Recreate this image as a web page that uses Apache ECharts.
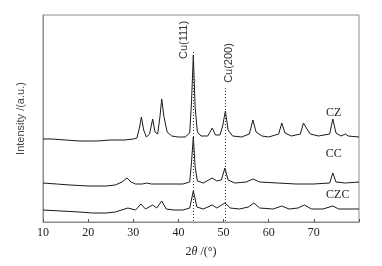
<!DOCTYPE html>
<html>
<head>
<meta charset="utf-8">
<script src="https://cdn.jsdelivr.net/npm/echarts@6/dist/echarts.min.js"></script>
<style>
  html, body { margin: 0; padding: 0; background: #fff; }
  #main { width: 382px; height: 266px; }
</style>
</head>
<body>
<div id="main"></div>
<script>
// XRD patterns, [2theta, intensity (offset, a.u.)]
const czData = [
  [10, 83], [12, 83], [15, 82], [18, 81], [20, 81], [22, 81], [25, 82], [28, 82], [30, 83],
  [30.8, 84], [31.4, 95], [31.8, 105], [32.3, 92], [32.9, 85], [33.6, 88], [34.3, 103],
  [34.8, 90], [35.4, 88], [35.9, 105], [36.3, 123], [36.8, 105], [37.5, 90], [38.5, 86],
  [40, 85], [41.5, 85], [42.5, 89], [42.9, 120], [43.3, 167], [43.7, 115], [44.2, 90],
  [45, 86], [46.5, 86], [47.5, 94], [48.2, 87], [49.2, 87], [49.8, 96], [50.4, 111],
  [51, 92], [52, 86], [54, 85], [55.7, 88], [56.5, 102], [57.2, 90], [58.5, 86], [60, 85],
  [62.2, 88], [62.9, 99], [63.6, 89], [65, 86], [67, 88], [67.7, 99], [68.2, 95], [68.6, 96],
  [69.2, 88], [71, 86], [73.5, 88], [74.2, 103], [74.9, 89], [76, 86], [77, 88], [77.6, 86],
  [80, 85]
];
const ccData = [
  [10, 39], [13, 38], [16, 37], [20, 36], [24, 36], [26, 37], [27.5, 40], [28.6, 44],
  [29.5, 40], [30.5, 38], [32, 38], [33, 39], [34, 38], [38, 38], [41, 38], [42.5, 40],
  [42.9, 60], [43.3, 85], [43.7, 55], [44.2, 41], [45.5, 39], [47.5, 44], [48.5, 41],
  [49.5, 42], [50.3, 54], [51, 42], [52.5, 39], [55, 40], [56.5, 43], [58, 40], [62, 39],
  [66, 38], [70, 38], [73.5, 39], [74.2, 49], [74.9, 40], [77, 39], [80, 40]
];
const czcData = [
  [10, 12], [14, 11], [18, 10], [21, 9], [24, 9], [26, 10], [28.8, 14], [30.5, 12],
  [31.7, 18], [32.7, 13], [34.3, 17], [35.2, 14], [36.3, 21], [37.3, 13], [39, 12],
  [41, 12], [42.5, 14], [43.3, 31], [44.1, 15], [45.5, 13], [47.5, 17], [48.5, 14],
  [50.3, 19], [51.5, 14], [53.5, 13], [55.5, 15], [56.7, 19], [58, 14], [61, 13],
  [62.9, 16], [64.5, 13], [66.5, 14], [67.9, 17], [69.5, 13], [72, 13], [74.2, 16],
  [75.5, 13], [78, 13], [80, 13]
];

const sampleNames = ['CZ', 'CC', 'CZC'];
const sampleLabelPos = [[74.4, 109], [74.4, 68], [75.3, 27]];

const cuNames = ['Cu(111)', 'Cu(200)'];
const cuAngles = [43.3, 50.3];
const cuLineTop = [170, 134];
const cuLabelPos = [[41.3, 182], [51.1, 159]];

const serif = '"Liberation Serif", "DejaVu Serif", serif';
const sans = '"Liberation Sans", Arial, sans-serif';

const chart = echarts.init(document.getElementById('main'));

const lineSeries = (name, data) => ({
  name: name,
  type: 'line',
  data: data,
  symbol: 'none',
  silent: true,
  lineStyle: { color: '#1a1a1a', width: 1 }
});

const option = {
  animation: false,
  grid: {
    left: 43, right: 23, top: 15, bottom: 44,
    show: true, borderColor: '#8c8c8c', borderWidth: 1
  },
  xAxis: {
    type: 'value',
    min: 10,
    max: 80,
    interval: 10,
    name: '2{i|θ} /(°)',
    nameLocation: 'middle',
    nameGap: 24,
    nameTextStyle: {
      fontFamily: serif, fontSize: 12, color: '#222',
      rich: { i: { fontFamily: serif, fontStyle: 'italic', fontSize: 12, color: '#222' } }
    },
    axisLine: { lineStyle: { color: '#8c8c8c', width: 1 } },
    axisTick: { inside: true, length: 3, lineStyle: { color: '#555' } },
    splitLine: { show: false },
    axisLabel: {
      fontFamily: serif, fontSize: 12, color: '#222', margin: 5,
      formatter: v => (v === 80 ? '' : String(v))
    }
  },
  yAxis: {
    type: 'value',
    min: 0,
    max: 207,
    name: 'Intensity /(a.u.)',
    nameLocation: 'middle',
    nameGap: 17,
    nameTextStyle: { fontFamily: sans, fontSize: 11, color: '#444' },
    axisLine: { show: true, lineStyle: { color: '#8c8c8c', width: 1 } },
    axisTick: { show: false },
    axisLabel: { show: false },
    splitLine: { show: false }
  },
  series: [
    Object.assign(lineSeries('CZ', czData), {
      markLine: {
        silent: true,
        symbol: 'none',
        label: { show: false },
        lineStyle: { type: [1, 2], color: '#333', width: 1 },
        data: cuAngles.map((a, i) => [{ coord: [a, cuLineTop[i]] }, { coord: [a, 0] }])
      }
    }),
    lineSeries('CC', ccData),
    lineSeries('CZC', czcData)
  ]
};

chart.setOption(option);

// text labels placed in data space
const texts = [];
sampleNames.forEach((n, i) => {
  const p = chart.convertToPixel({ gridIndex: 0 }, sampleLabelPos[i]);
  texts.push({
    type: 'text', x: p[0], y: p[1],
    style: { text: n, fontFamily: serif, fontSize: 12, fill: '#222', align: 'center', verticalAlign: 'middle' }
  });
});
cuNames.forEach((n, i) => {
  const p = chart.convertToPixel({ gridIndex: 0 }, cuLabelPos[i]);
  texts.push({
    type: 'text', x: p[0], y: p[1], rotation: Math.PI / 2,
    style: { text: n, fontFamily: sans, fontSize: 11, fill: '#333', align: 'center', verticalAlign: 'middle' }
  });
});
chart.setOption({ graphic: texts });
</script>
</body>
</html>
